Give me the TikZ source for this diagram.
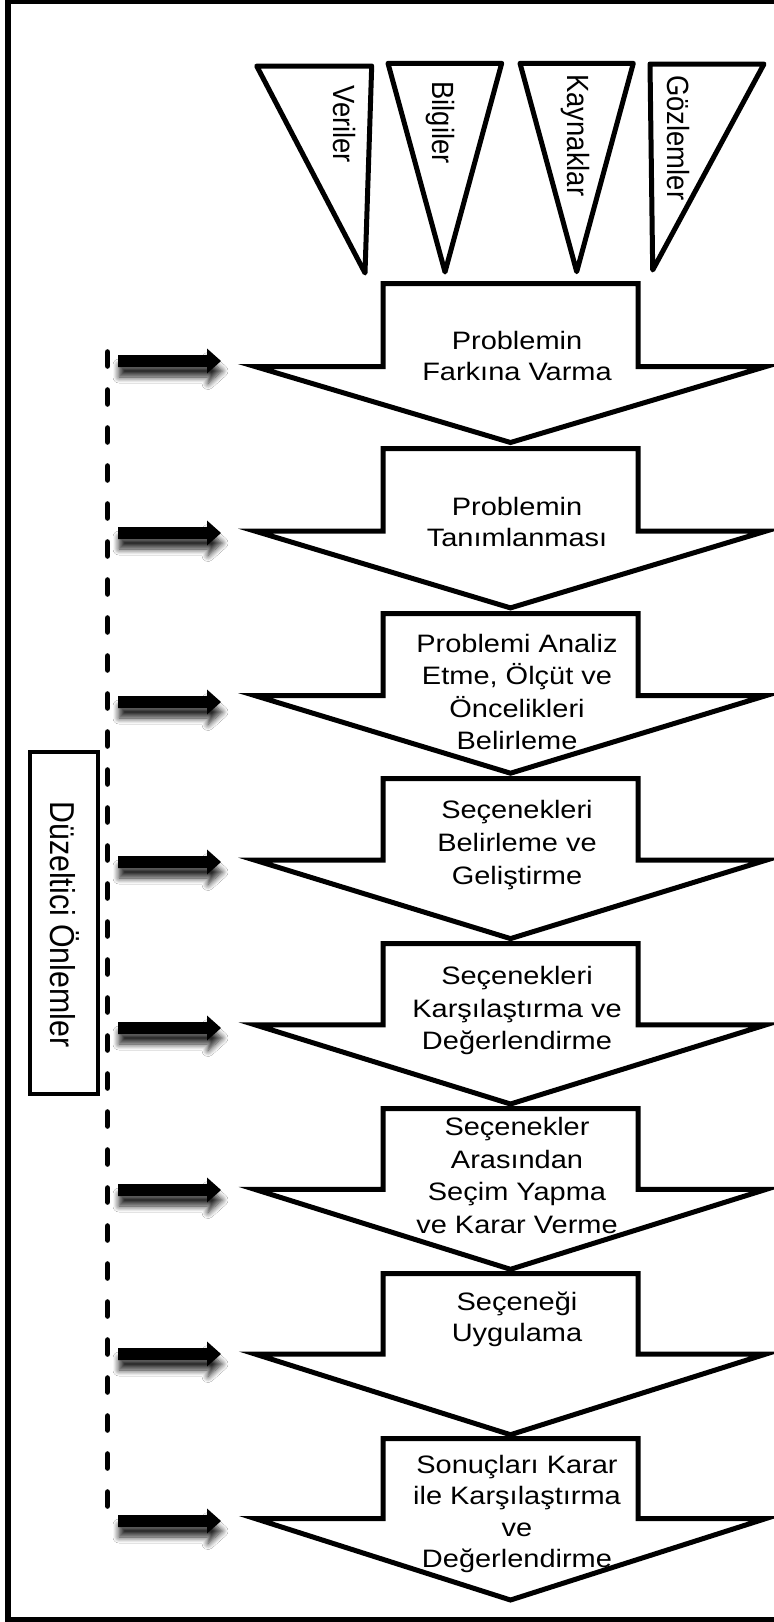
\documentclass[tikz,border=0pt]{standalone}
\usepackage{fontspec}
\setmainfont{Liberation Sans}
\newfontfamily\stepfont[FakeStretch=1.15]{Liberation Sans}
\usetikzlibrary{shadows.blur}

\begin{document}
\begin{tikzpicture}[x=0.5pt, y=-0.5pt,
  frame/.style={draw=black, line width=3pt},
  pennant/.style={draw=black, line width=2.5pt, line join=round, fill=white},
  bigarrow/.style={draw=black, line width=2.5pt, line join=miter, fill=white},
  steptext/.style={font=\stepfont\fontsize{12.6}{15.6}\selectfont, align=center, anchor=north, inner sep=0pt},
  widestep/.style={steptext, font=\stepfont\fontsize{12.6}{16.3}\selectfont},
  pentext/.style={font=\fontsize{13.7}{16}\selectfont, rotate=-90, anchor=base west, inner sep=0pt},
  feedline/.style={draw=black, line width=2.8pt, line cap=round, dash pattern=on 7pt off 12pt},
  feedarrow/.style={fill=black, blur shadow={shadow xshift=0.5pt, shadow yshift=-5pt, shadow blur radius=3pt, shadow blur steps=8, shadow opacity=85}},
  labelbox/.style={draw=black, line width=1.65pt, fill=white, inner sep=0pt}
]
\useasboundingbox (0,0) rectangle (774,1622);
\clip (0,0) rectangle (774,1622);
\fill[white] (0,0) rectangle (774,1622);

% outer frame (its right side lies past the edge)
\draw[frame] (8,1) rectangle (800,1620);

% input pennants
\draw[pennant] (256.7,66) -- (371.7,66) -- (365,273) -- cycle;
\draw[pennant] (388,63.3) -- (501.7,63.3) -- (445,272) -- cycle;
\draw[pennant] (520,63.3) -- (633.3,63.3) -- (576.7,271.7) -- cycle;
\draw[pennant] (650,64) -- (764,64) -- (652.7,270) -- cycle;
\node[pentext] (veriler)   at (333,85) {\scalebox{1}[1.12]{Veriler}};
\node[pentext] (bilgiler)  at (432,81) {\scalebox{1}[1.12]{Bilgiler}};
\node[pentext] (kaynaklar) at (567,74) {\scalebox{1}[1.12]{Kaynaklar}};
\node[pentext] (gozlemler) at (667,75) {\scalebox{1}[1.12]{Gözlemler}};

% process steps: block arrows pointing down
\foreach \t/\s/\b in {283.5/366.5/442.5, 448.5/531.1/607.9, 613.5/695.6/773.2,
                      778.5/860.2/938.6, 943.5/1024.8/1104, 1108.5/1189.4/1269.3,
                      1273.5/1354/1434.7, 1438.5/1518.5/1600}{
  \draw[bigarrow] (383,\t) -- (638,\t) -- (638,\s) -- (766,\s) -- (510.5,\b)
                  -- (255,\s) -- (383,\s) -- cycle;
}
\node[steptext] (s1) at (517,330.8) {Problemin\\Farkına Varma};
\node[steptext] (s2) at (517,496.8) {Problemin\\Tanımlanması};
\node[widestep] (s3) at (517,633.5) {Problemi Analiz\\Etme, Ölçüt ve\\Öncelikleri\\Belirleme};
\node[widestep] (s4) at (517,800.3) {Seçenekleri\\Belirleme ve\\Geliştirme};
\node[widestep] (s5) at (517,965.8) {Seçenekleri\\Karşılaştırma ve\\Değerlendirme};
\node[widestep] (s6) at (517,1116.8) {Seçenekler\\Arasından\\Seçim Yapma\\ve Karar Verme};
\node[steptext] (s7) at (517,1291.8) {Seçeneği\\Uygulama};
\node[steptext] (s8) at (517,1455.1) {Sonuçları Karar\\ile Karşılaştırma\\ve\\Değerlendirme};

% corrective feedback line and its arrows
\coordinate (dtop) at (107.5,352);
\coordinate (dbot) at (107.5,1517);
\draw[feedline] (dtop) -- (dbot);
\foreach \c in {361,533,702,862,1028,1190,1354,1521}{
  \fill[feedarrow] (118,\c-6) -- (207,\c-6) -- (207,\c-12.5) -- (221,\c)
                   -- (207,\c+12.5) -- (207,\c+6) -- (118,\c+6) -- cycle;
}

% side label
\node[labelbox, minimum width=34pt, minimum height=171pt] (fixbox) at (64,923) {};
\node[pentext, font=\fontsize{15.15}{18}\selectfont] (fixtext) at (50,801)
  {\scalebox{1}[1.14]{Düzeltici Önlemler}};
\end{tikzpicture}
\end{document}
